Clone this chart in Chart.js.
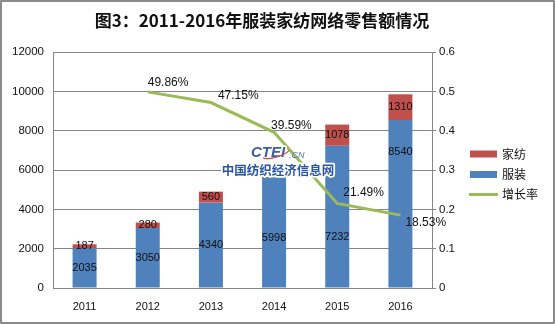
<!DOCTYPE html>
<html>
<head>
<meta charset="utf-8">
<script src="https://cdn.jsdelivr.net/npm/chart.js@4.4.1/dist/chart.umd.min.js"></script>
<style>
  html, body { margin: 0; padding: 0; background: #fff; }
  #wrap { width: 555px; height: 324px; }
</style>
</head>
<body>
<div id="wrap"><canvas id="c" width="555" height="324"></canvas></div>
<script>
// 2011-2016 online retail sales: apparel (服装) and home textiles (家纺), plus growth rate
const years = ['2011', '2012', '2013', '2014', '2015', '2016'];
const apparel = [2035, 3050, 4340, 5998, 7232, 8540];
const homeTextile = [187, 280, 560, 842, 1078, 1310];
const growthRate = [null, 0.4986, 0.4715, 0.3959, 0.2149, 0.1853];
const leftTicks = [0, 2000, 4000, 6000, 8000, 10000, 12000];
const rightTicks = [0, 0.1, 0.2, 0.3, 0.4, 0.5, 0.6];

const TITLE = '图3：2011-2016年服装家纺网络零售额情况';
const COLORS = { apparel: '#4F81BD', home: '#C0504D', rate: '#9BBB59', grid: '#868686' };
const NUM_FONT = '"Liberation Sans", Arial, sans-serif';
const CJK_FONT = '"Noto Sans CJK SC", "Noto Sans", sans-serif';

// vertical nudges (px) for the apparel value labels, and offsets for the rate labels
const apparelLabelNudge = [0, 0, 0, 9, 20, -52];
const rateLabelOffset = [null, [0, -9], [7, -7], [-3, -7], [6, -11], [5, 8]];

const decor = {
  id: 'decor',
  beforeDraw(chart) {
    const ctx = chart.ctx;
    ctx.save();
    ctx.fillStyle = '#fff';
    ctx.fillRect(0, 0, chart.width, chart.height);
    ctx.restore();
  },
  beforeDatasetDraw(chart, args) {
    if (args.meta.type !== 'line') return;
    const ctx = chart.ctx;
    ctx.save();
    // stacked bar value labels
    ctx.font = '11px ' + NUM_FONT;
    ctx.fillStyle = '#111';
    ctx.textAlign = 'center';
    ctx.textBaseline = 'middle';
    const apMeta = chart.getDatasetMeta(1);
    const hmMeta = chart.getDatasetMeta(2);
    apMeta.data.forEach((el, i) => {
      const y = (el.y + el.base) / 2 + apparelLabelNudge[i];
      ctx.fillText(String(apparel[i]), el.x, y);
    });
    hmMeta.data.forEach((el, i) => {
      ctx.fillText(String(homeTextile[i]), el.x, (el.y + el.base) / 2);
    });
    // site mark backing patch
    ctx.fillStyle = 'rgba(255,255,255,0.97)';
    const bx = chart.scales.x.getPixelForValue(3);
    ctx.fillRect(bx - 16, 133, 32, 44);
    ctx.restore();
  },
  afterDatasetsDraw(chart) {
    const ctx = chart.ctx;
    const { x: xs, y1 } = chart.scales;
    ctx.save();
    // growth rate labels
    ctx.font = '12px ' + NUM_FONT;
    ctx.fillStyle = '#111';
    ctx.textAlign = 'left';
    ctx.textBaseline = 'middle';
    growthRate.forEach((v, i) => {
      if (v === null) return;
      const off = rateLabelOffset[i];
      const px = xs.getPixelForValue(i) + off[0];
      const py = y1.getPixelForValue(v) + off[1];
      ctx.fillText((v * 100).toFixed(2) + '%', px, py);
    });

    // site mark
    const cx = 278;
    ctx.lineJoin = 'round';
    ctx.font = 'italic bold 15px ' + NUM_FONT;
    ctx.textAlign = 'left';
    ctx.strokeStyle = '#fff';
    ctx.lineWidth = 3;
    ctx.strokeText('CTEI', 251, 153);
    ctx.fillStyle = '#3d5f9f';
    ctx.fillText('CTEI', 251, 153);
    ctx.strokeStyle = '#c0504d';
    ctx.lineWidth = 1.2;
    ctx.beginPath();
    ctx.ellipse(276, 153, 14, 4, -0.3, 0.3, Math.PI * 0.95);
    ctx.stroke();
    ctx.font = 'italic 9px ' + NUM_FONT;
    ctx.fillStyle = '#5577b5';
    ctx.fillText('.CN', 289, 155);

    ctx.font = 'bold 12.5px ' + CJK_FONT;
    ctx.textAlign = 'center';
    ctx.strokeStyle = '#fff';
    ctx.lineWidth = 3.5;
    ctx.strokeText('中国纺织经济信息网', cx, 170);
    ctx.fillStyle = '#2b55a3';
    ctx.fillText('中国纺织经济信息网', cx, 170);

    // title
    ctx.font = 'bold 17px ' + CJK_FONT;
    ctx.fillStyle = '#111';
    ctx.textAlign = 'center';
    ctx.fillText(TITLE, 262, 21);

    // legend
    const items = [
      { label: '家纺', kind: 'box', color: COLORS.home, y: 154 },
      { label: '服装', kind: 'box', color: COLORS.apparel, y: 174.5 },
      { label: '增长率', kind: 'line', color: COLORS.rate, y: 194.5 }
    ];
    ctx.font = '12px ' + CJK_FONT;
    ctx.textAlign = 'left';
    items.forEach(it => {
      if (it.kind === 'box') {
        ctx.fillStyle = it.color;
        ctx.fillRect(470, it.y - 3.5, 27, 7);
      } else {
        ctx.strokeStyle = it.color;
        ctx.lineWidth = 3;
        ctx.beginPath();
        ctx.moveTo(469, it.y);
        ctx.lineTo(498, it.y);
        ctx.stroke();
      }
      ctx.fillStyle = '#111';
      ctx.fillText(it.label, 502, it.y);
    });

    // outer frame
    ctx.strokeStyle = '#8a8a8a';
    ctx.lineWidth = 2;
    ctx.strokeRect(1, 1, chart.width - 2, chart.height - 2);
    ctx.restore();
  }
};

new Chart(document.getElementById('c'), {
  data: {
    labels: years,
    datasets: [
      {
        type: 'line', label: '增长率', data: growthRate, yAxisID: 'y1', order: 0,
        borderColor: COLORS.rate, borderWidth: 3, pointRadius: 0, tension: 0,
        spanGaps: false, fill: false
      },
      {
        type: 'bar', label: '服装', data: apparel, yAxisID: 'y', order: 1,
        backgroundColor: COLORS.apparel, stack: 's', barPercentage: 0.38, categoryPercentage: 1
      },
      {
        type: 'bar', label: '家纺', data: homeTextile, yAxisID: 'y', order: 1,
        backgroundColor: COLORS.home, stack: 's', barPercentage: 0.38, categoryPercentage: 1
      }
    ]
  },
  options: {
    responsive: false,
    animation: false,
    events: [],
    layout: { padding: { top: 52, right: 83, bottom: 0, left: 0 } },
    plugins: { legend: { display: false }, tooltip: { enabled: false }, title: { display: false } },
    scales: {
      x: {
        stacked: true,
        grid: { display: false, drawTicks: false },
        border: { display: true, color: COLORS.grid, width: 1 },
        ticks: { font: { family: NUM_FONT, size: 11 }, color: '#111', padding: 12 },
        afterFit(s) { s.height = 36; }
      },
      y: {
        stacked: true, position: 'left', min: 0, max: 12000,
        afterBuildTicks(s) { s.ticks = leftTicks.map(v => ({ value: v })); },
        grid: { color: COLORS.grid, lineWidth: 1, drawTicks: false },
        border: { display: true, color: COLORS.grid, width: 1 },
        ticks: { font: { family: NUM_FONT, size: 11.5 }, color: '#111', padding: 9,
                 callback: v => String(v) },
        afterFit(s) { s.width = 53; }
      },
      y1: {
        position: 'right', min: 0, max: 0.6,
        afterBuildTicks(s) { s.ticks = rightTicks.map(v => ({ value: v })); },
        grid: { drawOnChartArea: false, drawTicks: true, tickLength: 4, color: COLORS.grid },
        border: { display: true, color: COLORS.grid, width: 1 },
        ticks: { font: { family: NUM_FONT, size: 11.5 }, color: '#111', padding: 3,
                 callback: v => String(Math.round(v * 10) / 10) },
        afterFit(s) { s.width = 40; }
      }
    }
  },
  plugins: [decor]
});
</script>
</body>
</html>
